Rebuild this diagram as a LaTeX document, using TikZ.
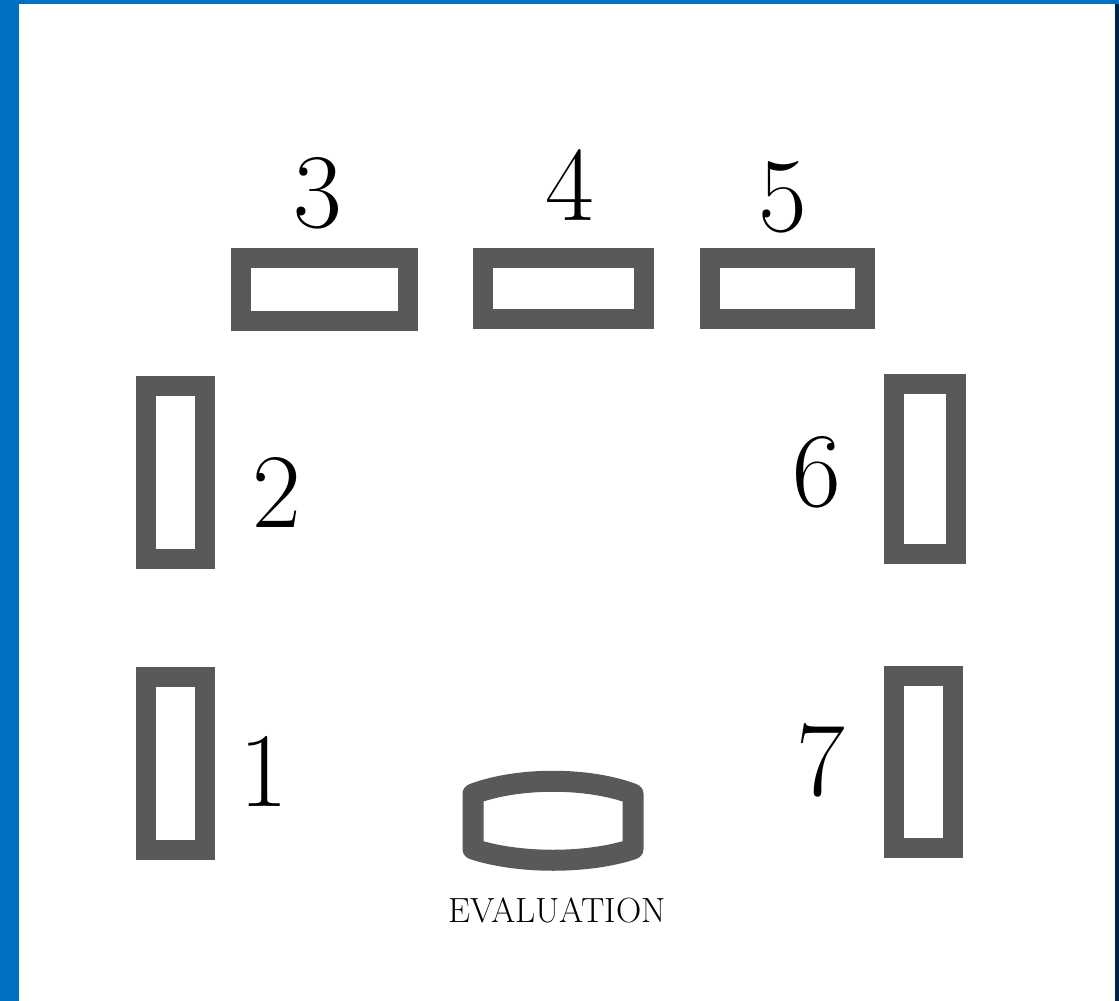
\documentclass[tikz,border=0pt]{standalone}
\usepackage{fontspec}
\usepackage{tikz}
\usetikzlibrary{positioning}
\definecolor{frameblue}{RGB}{0,112,192}
\definecolor{framenavy}{RGB}{0,36,70}
\definecolor{tablegrey}{RGB}{89,89,89}
\tikzset{
  tbl/.style  ={draw=tablegrey, line width=20pt, fill=white, inner sep=0pt},
  num/.style  ={font=\fontsize{106}{112}\selectfont, inner sep=0pt, anchor=center},
  lbl/.style  ={font=\fontsize{35}{40}\selectfont, inner sep=0pt},
}

\begin{document}
\begin{tikzpicture}[x=1pt,y=-1pt]
\useasboundingbox (0,0) rectangle (1119,1001);
% frame
\fill[frameblue] (0,0) rectangle (19,1001);
\fill[frameblue] (0,0) rectangle (1119,4);
\fill[framenavy] (1115,4) rectangle (1119,1001);

% tables along the top
\node[tbl, minimum width=167pt, minimum height=63pt] (t3) at (324.5,289.5) {};
\node[tbl, minimum width=161pt, minimum height=61pt] (t4) at (563.5,288.5) {};
\node[tbl, minimum width=155pt, minimum height=61pt] (t5) at (787.5,288.5) {};
% tables on the sides
\node[tbl, minimum width=59pt, minimum height=173pt] (t2) at (175.5,472.5) {};
\node[tbl, minimum width=59pt, minimum height=173pt] (t1) at (175.5,763.5) {};
\node[tbl, minimum width=62pt, minimum height=170pt] (t6) at (925,469) {};
\node[tbl, minimum width=59pt, minimum height=172pt] (t7) at (923.5,762) {};

% numbers
\node[num] (n3) at (318,193) {3};
\node[num] (n4) at (570,185) {4};
\node[num] (n5) at (783,197) {5};
\node[num] (n2) at (277,492) {2};
\node[num] (n6) at (817,472) {6};
\node[num] (n1) at (264,771) {1};
\node[num] (n7) at (821,760) {7};

% evaluation table
\draw[draw=tablegrey, line width=21pt, line join=round, fill=white]
  (473,794) .. controls (518,777) and (588,777) .. (633,794) -- (633,849)
  .. controls (588,864) and (518,864) .. (473,849) -- cycle;
\node[lbl, anchor=center] (evlbl) at (557,910) {EVALUATION};
\end{tikzpicture}
\end{document}
